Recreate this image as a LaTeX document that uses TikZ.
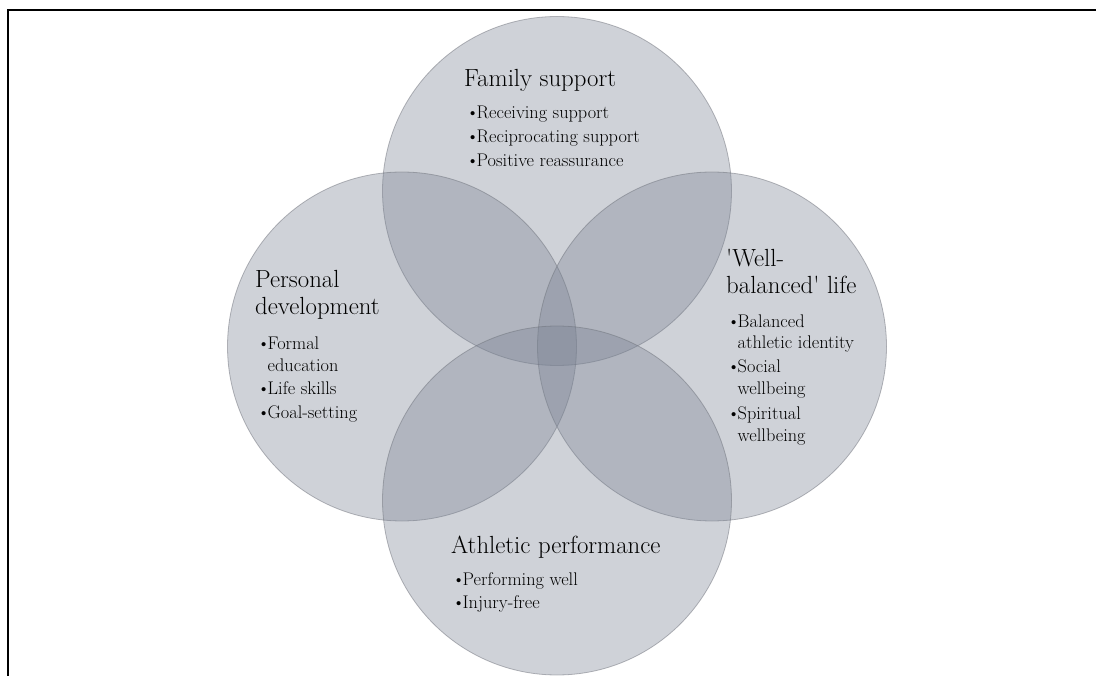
\documentclass[tikz,border=0pt]{standalone}
\definecolor{vfill}{RGB}{120,128,145}
\definecolor{vline}{RGB}{110,113,122}
\newcommand{\bul}{\makebox[10.5pt][l]{\textbullet}}
\newcommand{\ind}{\hspace*{10.5pt}}
\begin{document}
\begin{tikzpicture}[x=1pt,y=-1pt,
  venn/.style={circle,inner sep=0pt,minimum size=349pt,fill=vfill,fill opacity=0.354,draw=vline,draw opacity=0.5,line width=0.8pt},
  head/.style={anchor=base west,inner sep=0pt,font=\fontsize{24.8}{27}\selectfont,text=black},
  item/.style={anchor=base west,inner sep=0pt,font=\fontsize{18.3}{22}\selectfont,text=black},
  frameline/.style={line width=2pt,black}]
\useasboundingbox (0,0) rectangle (1096,676);
% frame
\coordinate (fa) at (7.5,676);
\coordinate (fb) at (7.5,10.5);
\coordinate (fc) at (1096,10.5);
\draw[frameline] (fa) -- (fb) -- (fc);
% circles
\node[venn] (top) at (557,191) {};
\node[venn] (left) at (402,346.5) {};
\node[venn] (right) at (712,346.5) {};
\node[venn] (bottom) at (557,500.5) {};
% Family support
\node[head] (fs) at (464,87) {Family support};
\node[item] (fs1) at (466,119) {\bul Receiving support};
\node[item] (fs2) at (466,143) {\bul Reciprocating support};
\node[item] (fs3) at (466,167) {\bul Positive reassurance};
% Personal development
\node[head] (pd) at (255,288) {Personal};
\node[head] (pdb) at (255,315) {development};
\node[item] (pd1) at (257,350) {\bul Formal};
\node[item] (pd1b) at (257,372) {\ind education};
\node[item] (pd2) at (257,395) {\bul Life skills};
\node[item] (pd3) at (257,419) {\bul Goal-setting};
% Well-balanced life
\node[head] (wb) at (726,267) {\textquotesingle Well-};
\node[head] (wbb) at (726,294) {balanced\textquotesingle{} life};
\node[item] (wb1) at (727,328) {\bul Balanced};
\node[item] (wb1b) at (727,349) {\ind athletic identity};
\node[item] (wb2) at (727,373) {\bul Social};
\node[item] (wb2b) at (727,395) {\ind wellbeing};
\node[item] (wb3) at (727,420) {\bul Spiritual};
\node[item] (wb3b) at (727,442) {\ind wellbeing};
% Athletic performance
\node[head] (ap) at (451,553) {Athletic performance};
\node[item] (ap1) at (452,585) {\bul Performing well};
\node[item] (ap2) at (452,608) {\bul Injury-free};
\end{tikzpicture}
\end{document}
